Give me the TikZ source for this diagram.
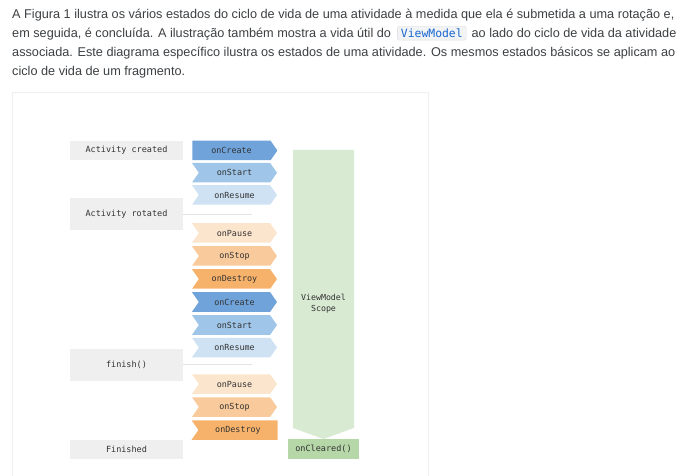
\documentclass[tikz,border=0pt]{standalone}
\usepackage{fontspec}
\usepackage{tikz}
\usetikzlibrary{shapes.symbols,positioning}
\setmainfont{Liberation Sans}
\newfontfamily\codefont{DejaVu Sans Mono}

\definecolor{txt}{HTML}{333333}
\definecolor{paratxt}{HTML}{3C4043}
\definecolor{grayfill}{HTML}{EFEFEF}
\definecolor{framegray}{HTML}{EEEEEE}
\definecolor{linegray}{HTML}{E4E4E4}
\definecolor{blueA}{HTML}{6FA3DA}
\definecolor{blueB}{HTML}{9FC5E8}
\definecolor{blueC}{HTML}{CFE2F3}
\definecolor{orangeA}{HTML}{FCE5CD}
\definecolor{orangeB}{HTML}{F9CB9C}
\definecolor{orangeC}{HTML}{F6B26B}
\definecolor{scopefill}{HTML}{D9EAD3}
\definecolor{clearfill}{HTML}{B6D7A8}
\definecolor{chipfill}{HTML}{F1F3F4}
\definecolor{chipline}{HTML}{DADCE0}
\definecolor{chiptxt}{HTML}{1967D2}

\begin{document}
\begin{tikzpicture}[x=1bp, y=-1bp,
    para/.style={anchor=base west, inner sep=0pt, text=paratxt, font=\fontsize{12.7bp}{15bp}\selectfont},
    life/.style={shape=signal, signal from=west, signal to=east, signal pointer angle=110,
        minimum width=85bp, minimum height=19.5bp, inner sep=0pt, text=txt,
        font=\codefont\fontsize{8.4bp}{10bp}\selectfont},
    state/.style={fill=grayfill, minimum width=113bp, inner sep=0pt, text=txt,
        font=\codefont\fontsize{8.5bp}{10bp}\selectfont}]
    \useasboundingbox (0,0) rectangle (694,476);

    % Text above the figure
    \node[para] (l1) at (12,18.5) {A Figura 1 ilustra os vários estados do ciclo de vida de uma atividade à medida que ela é submetida a uma rotação e,};
    \node[para] (l2a) at (12,37.5) {em seguida, é concluída. A ilustração também mostra a vida útil do};
    \node[anchor=base west, fill=chipfill, draw=chipline, rounded corners=2bp, inner xsep=3.5bp, inner ysep=2.5bp,
        text=chiptxt, font=\codefont\fontsize{11.4bp}{13bp}\selectfont] (chip) at ([xshift=6bp]l2a.base east) {ViewModel};
    \node[para] (l2b) at ([xshift=5bp]chip.base east) {ao lado do ciclo de vida da atividade};
    \node[para] (l3) at (12,56.5) {associada. Este diagrama específico ilustra os estados de uma atividade. Os mesmos estados básicos se aplicam ao};
    \node[para] (l4) at (12,75.5) {ciclo de vida de um fragmento.};

    % Figure frame
    \draw[framegray, line width=0.8bp] (12,480) -- (12,92) -- (428,92) -- (428,480);

    % States
    \node[state, minimum height=19bp] (created) at (126.5,150.5) {Activity created};
    \node[state, minimum height=32bp] (rotated) at (126.5,214) {Activity rotated};
    \node[state, minimum height=32bp] (finish) at (126.5,364.5) {finish()};
    \node[state, minimum height=19bp] (finished) at (126.5,449) {Finished};

    % Lifecycle callbacks
    \node[life, signal from=nowhere, fill=blueA] (cr1) at (231.5,150.5) {onCreate};
    \node[life, fill=blueB] (st1) at (234.5,172.75) {onStart};
    \node[life, fill=blueC] (re1) at (234.5,195) {onResume};

    \node[life, fill=orangeA] (pa1) at (234.5,233) {onPause};
    \node[life, fill=orangeB] (sp1) at (234.5,256) {onStop};
    \node[life, fill=orangeC] (de1) at (234.5,279) {onDestroy};
    \node[life, fill=blueA] (cr2) at (234.5,302) {onCreate};
    \node[life, fill=blueB] (st2) at (234.5,325) {onStart};
    \node[life, fill=blueC] (re2) at (234.5,347.5) {onResume};

    \node[life, fill=orangeA] (pa2) at (234.5,384) {onPause};
    \node[life, fill=orangeB] (sp2) at (234.5,407) {onStop};
    \node[life, signal to=nowhere, minimum width=86bp, fill=orangeC] (de2) at (238,430) {onDestroy};

    % Separators
    \coordinate (rotend) at (252,214);
    \coordinate (finend) at (252,364.5);
    \draw[linegray, line width=0.8bp] (rotated.east) -- (rotend);
    \draw[linegray, line width=0.8bp] (finish.east) -- (finend);

    % ViewModel scope
    \fill[scopefill] (293,150) -- (354,150) -- (354,428) -- (323.5,439) -- (293,428) -- cycle;
    \node[align=center, inner sep=0pt, text=txt, font=\codefont\fontsize{8.3bp}{11bp}\selectfont] (scope) at (323.5,304) {ViewModel\\Scope};
    \node[fill=clearfill, minimum width=71bp, minimum height=20bp, inner sep=0pt, text=txt,
        font=\codefont\fontsize{8.5bp}{10bp}\selectfont] (cleared) at (323.5,449) {onCleared()};
\end{tikzpicture}
\end{document}
